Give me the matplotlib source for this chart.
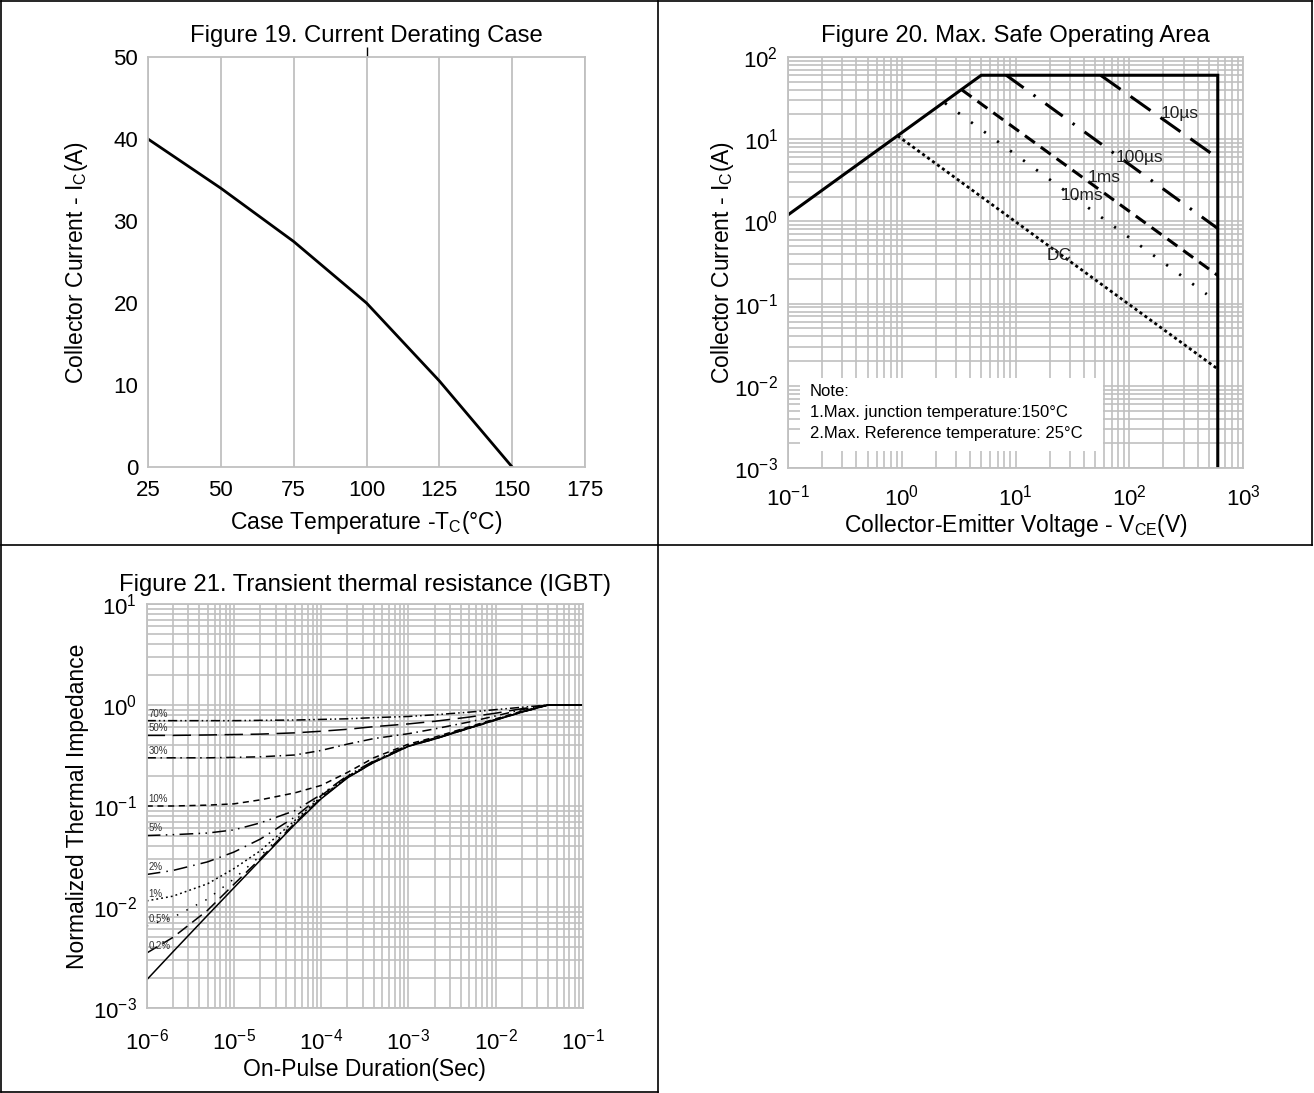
import matplotlib
matplotlib.use('Agg')
import matplotlib.pyplot as plt
from matplotlib.lines import Line2D
from matplotlib.patches import Rectangle
from matplotlib.ticker import LogLocator, NullFormatter, MultipleLocator

plt.rcParams['font.family'] = ['Liberation Sans', 'DejaVu Sans']
plt.rcParams['mathtext.fontset'] = 'custom'
plt.rcParams['mathtext.rm'] = 'Liberation Sans'
plt.rcParams['mathtext.it'] = 'Liberation Sans:italic'
plt.rcParams['mathtext.bf'] = 'Liberation Sans:bold'
plt.rcParams['axes.unicode_minus'] = False

# ---------------- data ----------------
# Figure 19
case_temp = [25, 50, 75, 100, 125, 150]
collector_current = [40, 34, 27.5, 20, 10.5, 0]

# Figure 20 (SOA)
soa_v = [0.1, 5, 600, 600]
soa_i = [1.2, 60, 60, 0.001]
us10_v = [56, 600]
us10_i = [60, 5.9]
us100_v = [8.3, 600]
us100_i = [60, 0.82]
ms1_v = [3.36, 600]
ms1_i = [40, 0.22]
ms10_v = [2.4, 480]
ms10_i = [27.5, 0.13]
dc_v = [0.92, 600]
dc_i = [11, 0.016]
soa_labels = ['10µs', '100µs', '1ms', '10ms', 'DC']
soa_label_v = [275, 123, 60, 38, 24]
soa_label_i = [20.8, 6.0, 3.44, 2.07, 0.385]

# Figure 21 (transient thermal impedance)
t_pulse = [1e-6, 2e-6, 5e-6, 1e-5, 2e-5, 5e-5, 1e-4, 2e-4, 4e-4,
           1e-3, 2e-3, 5e-3, 1e-2, 2e-2, 4e-2, 1e-1]
z_single = [0.0019, 0.0036, 0.0083, 0.0155, 0.029, 0.066, 0.118, 0.19, 0.27,
            0.39, 0.46, 0.59, 0.71, 0.85, 1.0, 1.0]
z_d02 = [0.0035, 0.0050, 0.0093, 0.0168, 0.030, 0.068, 0.120, 0.191, 0.271,
         0.391, 0.461, 0.591, 0.711, 0.851, 1.0, 1.0]
z_d05 = [0.0065, 0.0079, 0.0120, 0.0190, 0.032, 0.069, 0.121, 0.192, 0.272,
         0.392, 0.462, 0.592, 0.712, 0.852, 1.0, 1.0]
z_d1 = [0.0115, 0.0128, 0.0170, 0.0240, 0.036, 0.072, 0.124, 0.194, 0.274,
        0.394, 0.464, 0.594, 0.714, 0.854, 1.0, 1.0]
z_d2 = [0.021, 0.023, 0.028, 0.035, 0.047, 0.078, 0.127, 0.196, 0.276,
        0.396, 0.466, 0.596, 0.716, 0.856, 1.0, 1.0]
z_d5 = [0.051, 0.052, 0.054, 0.058, 0.068, 0.090, 0.130, 0.200, 0.280,
        0.400, 0.470, 0.600, 0.720, 0.860, 1.0, 1.0]
z_d10 = [0.100, 0.100, 0.102, 0.105, 0.115, 0.135, 0.160, 0.215, 0.300,
         0.410, 0.480, 0.610, 0.730, 0.870, 1.0, 1.0]
z_d30 = [0.300, 0.300, 0.300, 0.303, 0.307, 0.320, 0.355, 0.410, 0.465,
         0.520, 0.580, 0.680, 0.780, 0.900, 1.0, 1.0]
z_d50 = [0.500, 0.500, 0.505, 0.510, 0.515, 0.530, 0.550, 0.575, 0.610,
         0.650, 0.690, 0.760, 0.830, 0.920, 1.0, 1.0]
z_d70 = [0.700, 0.700, 0.700, 0.700, 0.705, 0.710, 0.720, 0.730, 0.750,
         0.770, 0.800, 0.850, 0.900, 0.950, 1.0, 1.0]
duty_labels = ['70%', '50%', '30%', '10%', '5%', '2%', '1%', '0.5%', '0.2%']

# ---------------- figure ----------------
W, H = 1314, 1093
fig = plt.figure(figsize=(W / 100, H / 100), dpi=100)
GRID = '#c0c0c0'
TICK_FS = 16
LAB_FS = 16.5
TITLE_FS = 17.2


def px(x, y):
    return x / W, 1 - y / H


def axes_px(l, t, r, b):
    return fig.add_axes([l / W, 1 - b / H, (r - l) / W, (b - t) / H])


def base_style(ax):
    for s in ax.spines.values():
        s.set_color(GRID)
        s.set_linewidth(1.3)
    ax.tick_params(which='both', length=0, labelsize=TICK_FS, pad=7)
    ax.set_axisbelow(True)


def log_axis(axis):
    axis.set_major_locator(LogLocator(base=10, numticks=30))
    axis.set_minor_locator(LogLocator(base=10, subs=range(2, 10), numticks=30))
    axis.set_minor_formatter(NullFormatter())


# ---- Figure 19 ----
ax1 = axes_px(148, 57, 585, 467)
base_style(ax1)
ax1.tick_params(axis='x', pad=9)
ax1.plot(case_temp, collector_current, color='black', lw=2.0)
ax1.set_xlim(25, 175)
ax1.set_ylim(0, 50)
ax1.xaxis.set_major_locator(MultipleLocator(25))
ax1.yaxis.set_major_locator(MultipleLocator(10))
ax1.grid(axis='x', color=GRID, lw=1.3)
ax1.set_title('Figure 19. Current Derating Case', fontsize=TITLE_FS, pad=11)
ax1.set_xlabel('Case Temperature -T$_\\mathregular{C}$(°C)', fontsize=LAB_FS, labelpad=6)
ax1.set_ylabel('Collector Current - I$_\\mathregular{C}$(A)', fontsize=LAB_FS, labelpad=17)
sec = ax1.secondary_xaxis('top')
sec.set_xticks([100])
sec.tick_params(length=7, width=1, color='black', labeltop=False, direction='out')
for s in sec.spines.values():
    s.set_visible(False)

# ---- Figure 20 ----
ax2 = axes_px(788, 57, 1243, 468)
base_style(ax2)
ax2.tick_params(axis='x', pad=12)
ax2.set_xscale('log')
ax2.set_yscale('log')
ax2.set_xlim(0.1, 1000)
ax2.set_ylim(1e-3, 100)
log_axis(ax2.xaxis)
log_axis(ax2.yaxis)
ax2.grid(which='both', color=GRID, lw=1.2)
ax2.plot(soa_v, soa_i, color='black', lw=2.2, solid_joinstyle='miter')
ax2.plot(us10_v, us10_i, color='black', lw=2.2, dashes=(8, 4))
ax2.plot(us100_v, us100_i, color='black', lw=2.2, dashes=(7, 4, 0.8, 4))
ax2.plot(ms1_v, ms1_i, color='black', lw=2.2, dashes=(4, 2.4))
ax2.plot(ms10_v, ms10_i, color='black', lw=2.0, dashes=(0.8, 5))
ax2.plot(dc_v, dc_i, color='black', lw=2.0, dashes=(1.1, 1.1))
for lab, v, i in zip(soa_labels, soa_label_v, soa_label_i):
    ax2.text(v, i, lab, fontsize=12.5, ha='center', va='center', color='#222222')
ax2.add_patch(Rectangle((0.026, 0.042), 0.666, 0.178, transform=ax2.transAxes,
                        facecolor='white', edgecolor='none', zorder=1.5))
note_lines = ['Note:', '1.Max. junction temperature:150°C',
              '2.Max. Reference temperature: 25°C']
for k, line in enumerate(note_lines):
    ax2.text(0.048, 0.187 - k * 0.051, line, transform=ax2.transAxes,
             fontsize=12, ha='left', va='center', zorder=3)
ax2.set_title('Figure 20. Max. Safe Operating Area', fontsize=TITLE_FS, pad=11)
ax2.set_xlabel('Collector-Emitter Voltage - V$_\\mathregular{CE}$(V)', fontsize=LAB_FS, labelpad=1)
ax2.set_ylabel('Collector Current - I$_\\mathregular{C}$(A)', fontsize=LAB_FS, labelpad=-1)

# ---- Figure 21 ----
ax3 = axes_px(146.7, 604, 583, 1008)
base_style(ax3)
ax3.tick_params(axis='x', pad=15)
ax3.set_xscale('log')
ax3.set_yscale('log')
ax3.set_xlim(1e-6, 1e-1)
ax3.set_ylim(1e-3, 10)
log_axis(ax3.xaxis)
log_axis(ax3.yaxis)
ax3.grid(which='both', color=GRID, lw=1.2)
LW3 = 1.1
ax3.plot(t_pulse, z_single, color='black', lw=LW3)
curves = [
    (z_d70, (6, 2, 1, 2, 1, 2)),
    (z_d50, (12, 5)),
    (z_d30, (6, 3, 1, 3)),
    (z_d10, (4, 3)),
    (z_d5, (9, 3.5, 1, 3.5, 1, 3.5)),
    (z_d2, (9, 4, 1, 4)),
    (z_d1, (1.2, 2)),
    (z_d05, (1, 6)),
    (z_d02, (8, 4)),
]
for (z, dash), lab in zip(curves, duty_labels):
    ax3.plot(t_pulse, z, color='black', lw=LW3, dashes=dash)
    ax3.annotate(lab, (t_pulse[0], z[0]), xytext=(1.5, 1.5), textcoords='offset points',
                 fontsize=7, ha='left', va='bottom', color='#333333')
ax3.set_title('Figure 21. Transient thermal resistance (IGBT)', fontsize=TITLE_FS, pad=9)
ax3.set_xlabel('On-Pulse Duration(Sec)', fontsize=LAB_FS, labelpad=2)
ax3.set_ylabel('Normalized Thermal Impedance', fontsize=LAB_FS, labelpad=3)

# ---- table borders ----
borders = [((1, 1), (1312, 1)), ((1, 1), (1, 1092)), ((1312, 1), (1312, 545)),
           ((1, 545), (1312, 545)), ((658, 1), (658, 1092)), ((1, 1092), (658, 1092))]
for p0, p1 in borders:
    a, b = px(*p0), px(*p1)
    fig.add_artist(Line2D([a[0], b[0]], [a[1], b[1]], transform=fig.transFigure,
                          color='black', lw=1.2))

fig.savefig('out.png', dpi=100)
